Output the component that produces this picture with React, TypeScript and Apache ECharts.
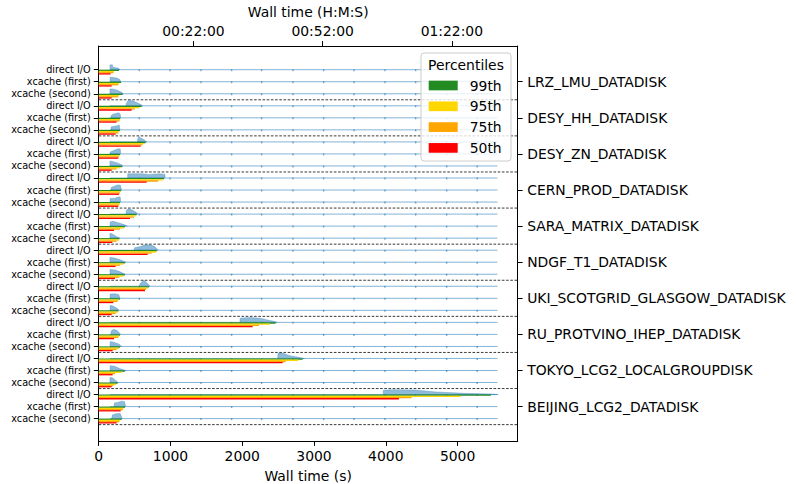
import React, { useEffect, useRef } from 'react';
import * as echarts from 'echarts';

const FONT = 'DejaVu Sans';

const sites = [
  'LRZ_LMU_DATADISK',
  'DESY_HH_DATADISK',
  'DESY_ZN_DATADISK',
  'CERN_PROD_DATADISK',
  'SARA_MATRIX_DATADISK',
  'NDGF_T1_DATADISK',
  'UKI_SCOTGRID_GLASGOW_DATADISK',
  'RU_PROTVINO_IHEP_DATADISK',
  'TOKYO_LCG2_LOCALGROUPDISK',
  'BEIJING_LCG2_DATADISK',
];
const modes = ['direct I/O', 'xcache (first)', 'xcache (second)'];

const percentileNames = ['99th', '95th', '75th', '50th'];
const percentileColors = ['#228B22', '#FFD700', '#FFA500', '#FF0000'];

// one value per row: site by site, rows in the order of `modes`
const p99 = [
  283, 311, 334, 599, 300, 297, 654, 297, 329, 910,
  311, 297, 529, 366, 287, 808, 366, 366, 701, 297,
  273, 2465, 297, 297, 2841, 366, 264, 5465, 366, 320,
];
const p95 = [
  213, 283, 283, 566, 297, 283, 622, 287, 297, 891,
  297, 297, 515, 352, 283, 798, 343, 343, 682, 273,
  264, 2386, 283, 283, 2781, 320, 241, 5042, 343, 297,
];
const p75 = [
  204, 273, 273, 506, 290, 273, 612, 283, 250, 831,
  297, 283, 492, 297, 250, 738, 297, 287, 659, 264,
  236, 2233, 273, 250, 2605, 227, 204, 4360, 338, 287,
];
const p50 = [
  165, 181, 181, 459, 250, 236, 585, 273, 181, 668,
  283, 273, 436, 213, 190, 682, 236, 227, 645, 204,
  181, 2145, 213, 194, 2563, 194, 181, 4183, 306, 250,
];

// half-violin outlines: [wall time (s), relative height]
const violins: number[][][] = [
  [[157, 0], [157, 0.4], [190, 0.42], [200, 0.2], [280, 0.12], [297, 0]],
  [[157, 0], [160, 0.38], [200, 0.35], [250, 0.3], [290, 0.2], [311, 0]],
  [[157, 0], [157, 0.4], [210, 0.38], [260, 0.3], [320, 0.12], [343, 0]],
  [[380, 0], [385, 0.2], [410, 0.45], [470, 0.42], [520, 0.3], [580, 0.12], [612, 0]],
  [[170, 0], [175, 0.2], [200, 0.3], [240, 0.35], [280, 0.42], [300, 0.3], [306, 0]],
  [[170, 0], [175, 0.25], [220, 0.3], [260, 0.35], [285, 0.42], [297, 0]],
  [[538, 0], [545, 0.25], [560, 0.45], [590, 0.3], [640, 0.15], [668, 0]],
  [[157, 0], [160, 0.15], [220, 0.3], [260, 0.4], [300, 0.42], [306, 0]],
  [[157, 0], [157, 0.4], [190, 0.38], [260, 0.25], [320, 0.1], [334, 0]],
  [[404, 0], [404, 0.35], [600, 0.35], [700, 0.3], [850, 0.35], [924, 0.3], [924, 0]],
  [[170, 0], [175, 0.2], [210, 0.3], [250, 0.4], [300, 0.42], [320, 0]],
  [[157, 0], [160, 0.3], [220, 0.3], [270, 0.42], [300, 0.42], [306, 0]],
  [[380, 0], [385, 0.3], [410, 0.45], [460, 0.35], [520, 0.15], [543, 0]],
  [[157, 0], [160, 0.35], [200, 0.4], [260, 0.3], [340, 0.15], [399, 0]],
  [[157, 0], [157, 0.4], [190, 0.35], [240, 0.15], [297, 0]],
  [[492, 0], [500, 0.2], [580, 0.3], [640, 0.42], [720, 0.45], [780, 0.3], [831, 0]],
  [[157, 0], [157, 0.4], [220, 0.35], [300, 0.2], [380, 0]],
  [[157, 0], [157, 0.4], [230, 0.35], [300, 0.2], [366, 0]],
  [[566, 0], [575, 0.2], [600, 0.35], [630, 0.5], [660, 0.35], [700, 0.1], [715, 0]],
  [[157, 0], [160, 0.35], [230, 0.38], [280, 0.3], [297, 0]],
  [[157, 0], [160, 0.42], [200, 0.35], [260, 0.15], [283, 0]],
  [[1968, 0], [1970, 0.35], [2100, 0.4], [2250, 0.35], [2350, 0.2], [2450, 0.08], [2488, 0]],
  [[170, 0], [175, 0.3], [210, 0.42], [260, 0.3], [306, 0]],
  [[157, 0], [160, 0.4], [210, 0.35], [280, 0.2], [320, 0]],
  [[2493, 0], [2500, 0.45], [2560, 0.45], [2650, 0.25], [2780, 0.1], [2864, 0]],
  [[157, 0], [160, 0.4], [220, 0.35], [300, 0.15], [380, 0]],
  [[157, 0], [157, 0.42], [190, 0.4], [240, 0.15], [273, 0]],
  [[3965, 0], [3965, 0.35], [4100, 0.4], [4400, 0.38], [4700, 0.22], [5100, 0.1], [5500, 0.04], [5567, 0]],
  [[213, 0], [220, 0.3], [260, 0.35], [320, 0.45], [360, 0.4], [376, 0]],
  [[181, 0], [190, 0.3], [240, 0.4], [300, 0.42], [329, 0]],
];

// overall span drawn on every row, and darker joints seen along it
const spanMin = 157;
const spanMax = 5557;
const spanMarks = [566, 993, 1425, 1852, 2270, 2707, 3134, 3557, 3988, 4416, 4848, 5274];

const bottomTicks = [0, 1000, 2000, 3000, 4000, 5000];
const topTicks = [1320, 3120, 4920];
const xMax = 5838;

const pad2 = (n: number) => String(n).padStart(2, '0');
const hms = (s: number) =>
  `${pad2(Math.floor(s / 3600))}:${pad2(Math.floor((s % 3600) / 60))}:${pad2(Math.floor(s % 60))}`;

export default function App() {
  const ref = useRef<HTMLDivElement>(null);

  useEffect(() => {
    if (!ref.current) return;
    const chart = echarts.init(ref.current, undefined, { renderer: 'svg' });
    const nRows = sites.length * modes.length;
    const rowIdx = Array.from({ length: nRows }, (_, i) => i);
    const groupCenters = sites.map((_, g) => g * 3 + 1);
    const separators = sites.map((_, g) => g * 3 + 2.5);
    const pvals = [p99, p95, p75, p50];
    const offsets = [0.05, 0.15, 0.25, 0.35];

    const axisLine = { show: true, onZero: false, lineStyle: { color: '#000', width: 1 } };

    const barSeries = percentileNames.map((name, k) => ({
      type: 'custom',
      name,
      xAxisIndex: 0,
      yAxisIndex: 0,
      itemStyle: { color: percentileColors[k] },
      z: 3,
      data: pvals[k].map((v, i) => [v, i]),
      renderItem: (params: any, api: any) => {
        const v = api.value(0);
        const r = api.value(1);
        const a = api.coord([0, r + offsets[k] - 0.055]);
        const b = api.coord([v, r + offsets[k] + 0.055]);
        return {
          type: 'rect',
          shape: { x: a[0], y: Math.min(a[1], b[1]), width: b[0] - a[0], height: Math.abs(b[1] - a[1]) },
          style: { fill: percentileColors[k] },
        };
      },
    }));

    const option: any = {
      animation: false,
      textStyle: { fontFamily: FONT },
      grid: {
        left: 98.7,
        top: 46,
        right: 278.3,
        bottom: 43,
        containLabel: false,
        outerBoundsMode: 'none',
      },
      xAxis: [
        {
          type: 'value',
          position: 'bottom',
          min: 0,
          max: xMax,
          axisLine,
          splitLine: { show: false },
          axisTick: { show: true, length: 4.9, customValues: bottomTicks, lineStyle: { color: '#000' } },
          axisLabel: {
            customValues: bottomTicks,
            fontSize: 13.9,
            color: '#000',
            margin: 8,
            fontFamily: FONT,
            formatter: (v: number) => String(v),
          },
          name: 'Wall time (s)',
          nameLocation: 'middle',
          nameGap: 28,
          nameTextStyle: { fontSize: 13.9, color: '#000', fontFamily: FONT, verticalAlign: 'top' },
        },
        {
          type: 'value',
          position: 'top',
          min: 0,
          max: xMax,
          axisLine,
          splitLine: { show: false },
          axisTick: { show: true, length: 4.9, customValues: topTicks, lineStyle: { color: '#000' } },
          axisLabel: {
            customValues: topTicks,
            fontSize: 13.9,
            color: '#000',
            margin: 8,
            fontFamily: FONT,
            formatter: (v: number) => hms(v),
          },
          name: 'Wall time (H:M:S)',
          nameLocation: 'middle',
          nameGap: 25,
          nameTextStyle: { fontSize: 13.9, color: '#000', fontFamily: FONT, verticalAlign: 'bottom' },
        },
      ],
      yAxis: [
        {
          type: 'value',
          position: 'left',
          inverse: true,
          min: -1.97,
          max: 30.86,
          axisLine,
          splitLine: { show: false },
          axisTick: { show: true, length: 4.9, customValues: rowIdx, lineStyle: { color: '#000' } },
          axisLabel: {
            customValues: rowIdx,
            fontSize: 9.7,
            color: '#000',
            margin: 8,
            fontFamily: FONT,
            formatter: (v: number) => modes[Math.round(v) % 3],
          },
        },
        {
          type: 'value',
          position: 'right',
          inverse: true,
          min: -1.97,
          max: 30.86,
          axisLine,
          splitLine: { show: false },
          axisTick: { show: true, length: 4.9, customValues: groupCenters, lineStyle: { color: '#000' } },
          axisLabel: {
            customValues: groupCenters,
            fontSize: 13.9,
            color: '#000',
            margin: 9.5,
            fontFamily: FONT,
            formatter: (v: number) => sites[Math.round((v - 1) / 3)],
          },
        },
      ],
      legend: {
        data: percentileNames,
        orient: 'vertical',
        left: 428.7,
        top: 78.5,
        padding: 0,
        itemWidth: 29,
        itemHeight: 9.7,
        itemGap: 6.8,
        icon: 'rect',
        selectedMode: false,
        z: 12,
        textStyle: { fontSize: 13.9, color: '#000', fontFamily: FONT, lineHeight: 14, padding: [0, 0, 0, 7] },
      },
      graphic: [
        {
          type: 'rect',
          z: 11,
          shape: { x: 421, y: 53, width: 90, height: 108, r: 3 },
          style: { fill: 'rgba(255,255,255,0.8)', stroke: '#cccccc', lineWidth: 1 },
        },
        {
          type: 'text',
          z: 12,
          x: 466,
          y: 65,
          style: {
            text: 'Percentiles',
            fontSize: 13.9,
            fontFamily: FONT,
            fill: '#000',
            align: 'center',
            verticalAlign: 'middle',
          },
        },
      ],
      series: [
        {
          type: 'custom',
          name: 'separators',
          z: 1,
          data: separators.map((y) => [0, y]),
          renderItem: (params: any, api: any) => {
            const y = api.value(1);
            const a = api.coord([0, y]);
            const b = api.coord([xMax, y]);
            return {
              type: 'line',
              shape: { x1: a[0], y1: a[1], x2: b[0], y2: b[1] },
              style: { stroke: '#222', lineWidth: 0.9, lineDash: [2.6, 1.6] },
            };
          },
        },
        {
          type: 'custom',
          name: 'span',
          z: 2,
          data: rowIdx.map((i) => [spanMin, i]),
          renderItem: (params: any, api: any) => {
            const r = api.value(1);
            const a = api.coord([spanMin, r]);
            const b = api.coord([spanMax, r]);
            const children: any[] = [
              {
                type: 'line',
                shape: { x1: a[0], y1: a[1], x2: b[0], y2: b[1] },
                style: { stroke: 'rgba(31,119,180,0.55)', lineWidth: 1 },
              },
            ];
            spanMarks.forEach((m) => {
              const p = api.coord([m, r]);
              children.push({
                type: 'rect',
                shape: { x: p[0] - 0.7, y: p[1] - 0.5, width: 1.4, height: 2 },
                style: { fill: 'rgba(31,119,180,0.6)' },
              });
            });
            return { type: 'group', children };
          },
        },
        {
          type: 'custom',
          name: 'violins',
          z: 2,
          data: rowIdx.map((i) => [violins[i][0][0], i]),
          renderItem: (params: any, api: any) => {
            const i = params.dataIndex;
            const r = api.value(1);
            const pts = violins[i].map(([v, h]) => api.coord([v, r - h]));
            return {
              type: 'polygon',
              shape: { points: pts },
              style: { fill: 'rgba(31,119,180,0.5)', stroke: 'rgba(31,119,180,0.6)', lineWidth: 0.5 },
            };
          },
        },
        ...barSeries,
      ],
    };

    chart.setOption(option);
    return () => chart.dispose();
  }, []);

  return (
    <div
      ref={ref}
      style={{ position: 'absolute', left: 0, top: 0, width: 796, height: 484, background: '#fff' }}
    />
  );
}
